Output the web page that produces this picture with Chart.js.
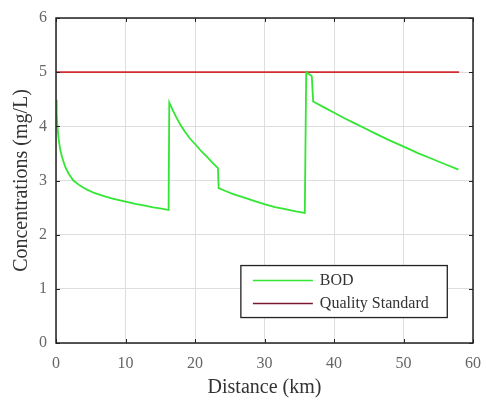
<!DOCTYPE html>
<html>
<head>
<meta charset="utf-8">
<script src="https://cdn.jsdelivr.net/npm/chart.js@4/dist/chart.umd.min.js"></script>
<style>
  html, body { margin: 0; padding: 0; background: #fff; }
  #wrap { width: 486px; height: 400px; }
</style>
</head>
<body>
<div id="wrap"><canvas id="c" width="486" height="400"></canvas></div>
<script>
// Distance along the river (km) and BOD concentration (mg/L)
const distanceKm = [0, 0.1, 0.2, 0.4, 0.6, 0.9, 1.3, 1.8, 2.5, 3.4, 4.4, 5.5, 6.8, 8.0, 9.2, 10.2, 11.4, 12.6, 14.0, 15.2, 16.2,
  16.3, 16.8, 17.3, 17.9, 18.5, 19.3, 20.1, 20.9, 21.7, 22.5, 23.3,
  23.4, 24.3, 25.5, 27.2, 28.6, 30.1, 31.5, 33.0, 34.5, 35.8,
  36.0, 36.8,
  37.0, 38.5, 40.1, 41.5, 43.0, 44.5, 45.9, 48.0, 50.2, 52.0, 53.8, 56.0, 57.9];
const bod = [4.49, 4.25, 4.0, 3.75, 3.57, 3.42, 3.26, 3.13, 3.0, 2.91, 2.835, 2.77, 2.715, 2.672, 2.635, 2.605, 2.57, 2.54, 2.505, 2.48, 2.455,
  4.44, 4.30, 4.17, 4.03, 3.91, 3.77, 3.66, 3.54, 3.44, 3.33, 3.23,
  2.86, 2.81, 2.75, 2.68, 2.62, 2.56, 2.51, 2.47, 2.43, 2.40,
  5.0, 4.93,
  4.46, 4.355, 4.245, 4.15, 4.055, 3.96, 3.87, 3.74, 3.615, 3.51, 3.415, 3.30, 3.20];
// Quality standard line
const standardKm = [0, 58];
const standardValue = [5, 5];

const xTicks = [0, 10, 20, 30, 40, 50, 60];
const yTicks = [0, 1, 2, 3, 4, 5, 6];

const seriesLabels = ['BOD', 'Quality Standard'];
const seriesColors = ['#33e633', '#cf2c30'];

const serif = '"Liberation Serif", "DejaVu Serif", serif';

// Box frame with inward tick marks on all four sides
const framePlugin = {
  id: 'frame',
  afterDatasetsDraw(chart) {
    const { ctx, chartArea: a, scales: { x, y } } = chart;
    ctx.save();
    ctx.strokeStyle = '#222';
    ctx.lineWidth = 1;
    const L = 4;
    ctx.beginPath();
    xTicks.forEach(v => {
      const px = Math.round(x.getPixelForValue(v)) + 0.5;
      ctx.moveTo(px, a.bottom); ctx.lineTo(px, a.bottom - L);
      ctx.moveTo(px, a.top); ctx.lineTo(px, a.top + L);
    });
    yTicks.forEach(v => {
      const py = Math.round(y.getPixelForValue(v)) + 0.5;
      ctx.moveTo(a.left, py); ctx.lineTo(a.left + L, py);
      ctx.moveTo(a.right, py); ctx.lineTo(a.right - L, py);
    });
    ctx.stroke();
    ctx.lineWidth = 1.5;
    ctx.strokeRect(a.left, a.top, a.right - a.left, a.bottom - a.top);
    ctx.restore();
  }
};

// Boxed legend in the lower right of the plot
const legendPlugin = {
  id: 'boxLegend',
  afterDraw(chart) {
    const { ctx, scales: { x, y } } = chart;
    const left = x.getPixelForValue(26.6), right = x.getPixelForValue(56.3);
    const top = y.getPixelForValue(1.43), bottom = y.getPixelForValue(0.47);
    ctx.save();
    ctx.fillStyle = '#fff';
    ctx.fillRect(left, top, right - left, bottom - top);
    ctx.strokeStyle = '#222';
    ctx.lineWidth = 1.3;
    ctx.strokeRect(left, top, right - left, bottom - top);
    ctx.font = '16px ' + serif;
    ctx.textBaseline = 'middle';
    chart.data.datasets.forEach((ds, i) => {
      const cy = top + 15 + i * 23;
      ctx.strokeStyle = i === 1 ? '#7a1a30' : ds.borderColor;
      ctx.lineWidth = 1.6;
      ctx.beginPath();
      ctx.moveTo(left + 12, cy); ctx.lineTo(left + 72, cy);
      ctx.stroke();
      ctx.fillStyle = '#333';
      ctx.fillText(ds.label, left + 79, cy);
    });
    ctx.restore();
  }
};

new Chart(document.getElementById('c'), {
  type: 'line',
  data: {
    datasets: [
      {
        label: seriesLabels[0],
        data: distanceKm.map((d, i) => ({ x: d, y: bod[i] })),
        borderColor: seriesColors[0],
        borderWidth: 1.8,
        pointRadius: 0,
        tension: 0,
        fill: false
      },
      {
        label: seriesLabels[1],
        data: standardKm.map((d, i) => ({ x: d, y: standardValue[i] })),
        borderColor: seriesColors[1],
        borderWidth: 1.6,
        pointRadius: 0,
        fill: false
      }
    ]
  },
  options: {
    responsive: false,
    animation: false,
    layout: { padding: { left: 4, right: 13, top: 18, bottom: 0 } },
    plugins: { legend: { display: false }, tooltip: { enabled: false } },
    scales: {
      x: {
        type: 'linear',
        min: 0, max: 60,
        afterBuildTicks: s => { s.ticks = xTicks.map(v => ({ value: v })); },
        afterFit: s => { s.height = 57; s.paddingLeft = 0; s.paddingRight = 0; },
        grid: { color: '#dedede', drawTicks: false },
        border: { display: false },
        ticks: { color: '#666', font: { family: serif, size: 16 }, padding: 11, maxRotation: 0 },
        title: { display: true, text: 'Distance (km)', color: '#333', font: { family: serif, size: 20 }, padding: { top: 4, bottom: 0 } }
      },
      y: {
        min: 0, max: 6,
        afterBuildTicks: s => { s.ticks = yTicks.map(v => ({ value: v })); },
        afterFit: s => { s.width = 52; s.paddingTop = 0; s.paddingBottom = 0; },
        grid: { color: '#dedede', drawTicks: false },
        border: { display: false },
        ticks: { color: '#666', font: { family: serif, size: 16 }, padding: 9 },
        title: { display: true, text: 'Concentrations (mg/L)', color: '#333', font: { family: serif, size: 20 }, padding: { top: 6, bottom: 2 } }
      }
    }
  },
  plugins: [framePlugin, legendPlugin]
});
</script>
</body>
</html>
